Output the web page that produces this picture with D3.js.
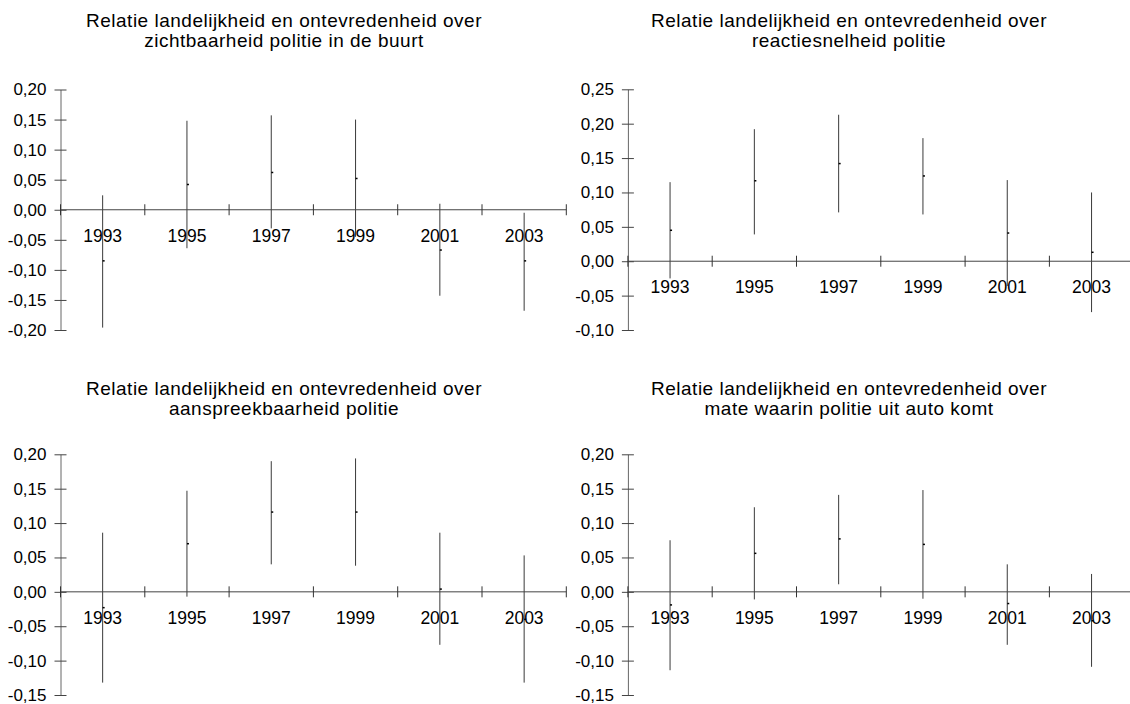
<!DOCTYPE html>
<html>
<head>
<meta charset="utf-8">
<script src="https://cdn.jsdelivr.net/npm/d3@7"></script>
<style>
  body { margin: 0; background: #fff; }
  text { font-family: "Liberation Sans", Arial, sans-serif; fill: #000; }
  .title { font-size: 19px; letter-spacing: 0.5px; }
  .ytick { font-size: 17px; }
  .xlab { font-size: 17.5px; }
</style>
</head>
<body>
<div id="chart"></div>
<script>
var years = ["1993", "1995", "1997", "1999", "2001", "2003"];

// zichtbaarheid politie in de buurt
var zichtHigh = [0.024, 0.148, 0.157, 0.150, 0.010, -0.005];
var zichtMid  = [-0.085, 0.042, 0.062, 0.052, -0.067, -0.085];
var zichtLow  = [-0.196, -0.064, -0.031, -0.045, -0.143, -0.168];

// reactiesnelheid politie
var reactHigh = [0.115, 0.192, 0.213, 0.179, 0.118, 0.100];
var reactMid  = [0.045, 0.117, 0.142, 0.124, 0.041, 0.013];
var reactLow  = [-0.025, 0.039, 0.071, 0.068, -0.036, -0.074];

// aanspreekbaarheid politie
var aanspHigh = [0.086, 0.147, 0.190, 0.194, 0.086, 0.053];
var aanspMid  = [-0.023, 0.070, 0.116, 0.116, 0.004, -0.040];
var aanspLow  = [-0.132, -0.007, 0.040, 0.038, -0.077, -0.132];

// mate waarin politie uit auto komt
var autoHigh = [0.075, 0.123, 0.141, 0.148, 0.040, 0.026];
var autoMid  = [-0.019, 0.056, 0.077, 0.069, -0.017, -0.042];
var autoLow  = [-0.114, -0.011, 0.011, -0.010, -0.077, -0.109];

var ticksA = [-0.20, -0.15, -0.10, -0.05, 0, 0.05, 0.10, 0.15, 0.20];
var ticksB = [-0.10, -0.05, 0, 0.05, 0.10, 0.15, 0.20, 0.25];
var ticksC = [-0.15, -0.10, -0.05, 0, 0.05, 0.10, 0.15, 0.20];

var titleTop = "Relatie landelijkheid en ontevredenheid over";
var subTitles = [
  "zichtbaarheid politie in de buurt",
  "reactiesnelheid politie",
  "aanspreekbaarheid politie",
  "mate waarin politie uit auto komt"
];

var fmt = d3.formatLocale({
  decimal: ",", thousands: ".", grouping: [3], currency: ["", ""], minus: "-"
}).format(".2f");

var svg = d3.select("#chart").append("svg")
    .attr("width", 1130)
    .attr("height", 704);

var panels = [
  {sub: subTitles[0], high: zichtHigh, mid: zichtMid, low: zichtLow, ticks: ticksA,
   left: 60.5, cx: 284, titleY: 26.5, top: 89.5, bottom: 330},
  {sub: subTitles[1], high: reactHigh, mid: reactMid, low: reactLow, ticks: ticksB,
   left: 627.9, cx: 849, titleY: 26.5, top: 89.3, bottom: 330},
  {sub: subTitles[2], high: aanspHigh, mid: aanspMid, low: aanspLow, ticks: ticksC,
   left: 60.5, cx: 284, titleY: 395, top: 454.3, bottom: 695},
  {sub: subTitles[3], high: autoHigh, mid: autoMid, low: autoLow, ticks: ticksC,
   left: 627.9, cx: 849, titleY: 395, top: 454.3, bottom: 695}
];

panels.forEach(function(p) { drawPanel(p); });

function drawPanel(p) {
  var g = svg.append("g");
  var bandWidth = 84.3;

  var x = d3.scaleBand()
      .domain(years)
      .range([p.left, p.left + bandWidth * years.length]);
  var y = d3.scaleLinear()
      .domain(d3.extent(p.ticks))
      .range([p.bottom, p.top]);

  var title = g.append("text")
      .attr("class", "title")
      .attr("text-anchor", "middle")
      .attr("y", p.titleY);
  title.selectAll("tspan")
      .data([titleTop, p.sub]).enter()
      .append("tspan")
      .attr("x", p.cx)
      .attr("dy", function(d, i) { return i ? 20 : 0; })
      .text(function(d) { return d; });

  var cx = function(d) { return x(d) + x.bandwidth() / 2; };

  // high-low lines
  g.selectAll(".bar")
      .data(years).enter()
      .append("line")
      .attr("class", "bar")
      .attr("x1", cx).attr("x2", cx)
      .attr("y1", function(d, i) { return y(p.high[i]); })
      .attr("y2", function(d, i) { return y(p.low[i]); })
      .style("stroke", "#3a3a3a")
      .style("stroke-width", 1);

  // point estimates
  g.selectAll(".pt")
      .data(years).enter()
      .append("rect")
      .attr("class", "pt")
      .attr("x", function(d) { return cx(d); })
      .attr("y", function(d, i) { return y(p.mid[i]) - 0.75; })
      .attr("width", 2)
      .attr("height", 1.5)
      .style("fill", "#000");

  // y axis
  var yAxis = d3.axisLeft(y)
      .tickValues(p.ticks)
      .tickFormat(fmt)
      .tickSizeInner(6)
      .tickSizeOuter(0)
      .tickPadding(8);
  var ya = g.append("g")
      .attr("transform", "translate(" + p.left + ",0)")
      .call(yAxis);
  ya.select(".domain").style("stroke", "#666");
  ya.selectAll(".tick line").attr("x1", 6).style("stroke", "#444");
  ya.selectAll(".tick text").attr("class", "ytick");
  ya.attr("font-size", null).attr("font-family", null);

  // x axis along zero
  var y0 = y(0);
  g.append("line")
      .attr("x1", x.range()[0]).attr("x2", x.range()[1])
      .attr("y1", y0).attr("y2", y0)
      .style("stroke", "#444");

  var edges = years.map(function(d) { return x(d); }).concat([x.range()[1]]);
  g.selectAll(".xtick")
      .data(edges).enter()
      .append("line")
      .attr("class", "xtick")
      .attr("x1", function(d) { return d; })
      .attr("x2", function(d) { return d; })
      .attr("y1", y0 - 5.5)
      .attr("y2", y0 + 5.5)
      .style("stroke", "#333");

  g.selectAll(".xlab")
      .data(years).enter()
      .append("text")
      .attr("class", "xlab")
      .attr("text-anchor", "middle")
      .attr("x", cx)
      .attr("y", y0 + 32)
      .text(function(d) { return d; });
}
</script>
</body>
</html>
